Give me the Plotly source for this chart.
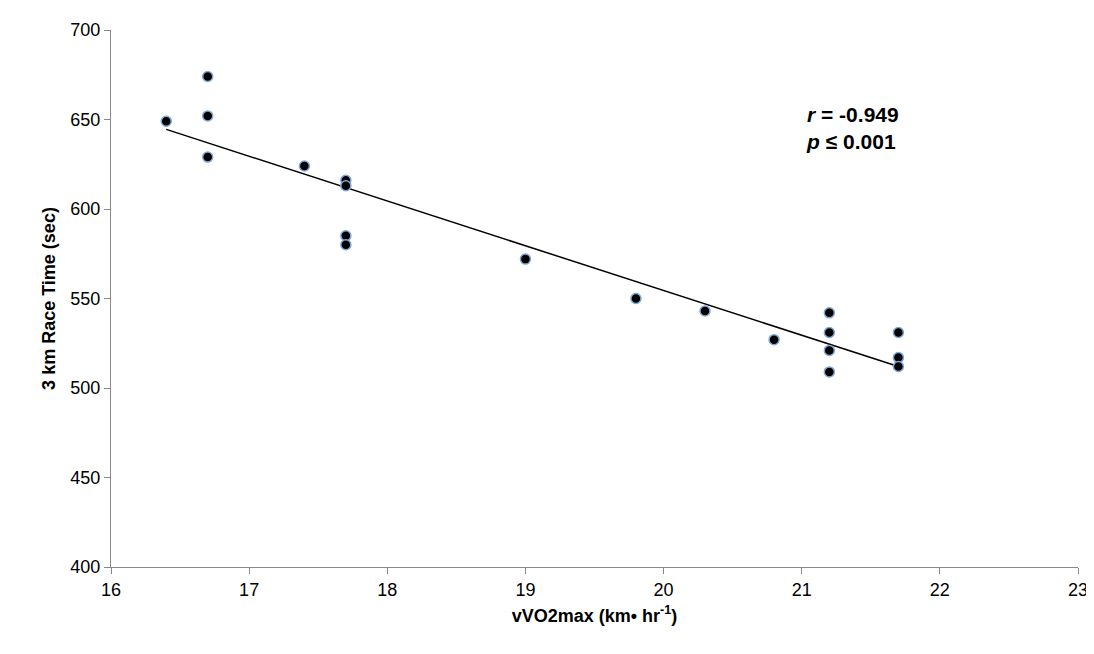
import numpy as np
import plotly.graph_objects as go

vvo2 = [16.4, 16.7, 16.7, 16.7, 17.4, 17.7, 17.7, 17.7, 17.7, 19.0, 19.8, 20.3, 20.8,
        21.2, 21.2, 21.2, 21.2, 21.7, 21.7, 21.7]
race = [649, 674, 652, 629, 624, 616, 613, 585, 580, 572, 550, 543, 527,
        542, 531, 521, 509, 531, 517, 512]

slope, icpt = np.polyfit(vvo2, race, 1)
lx = [min(vvo2), max(vvo2)]
ly = [slope * v + icpt for v in lx]

fig = go.Figure()
fig.add_trace(go.Scatter(x=lx, y=ly, mode="lines", line=dict(color="black", width=1.5), hoverinfo="skip"))
fig.add_trace(go.Scatter(x=vvo2, y=race, mode="markers",
                         marker=dict(color="black", size=10, line=dict(color="#7ea6d8", width=1.5))))
font = "Liberation Sans, Arial, sans-serif"
fig.update_layout(
    width=1094, height=654, showlegend=False,
    plot_bgcolor="white", paper_bgcolor="white",
    margin=dict(l=103, r=24, t=12, b=95),
    font=dict(family=font, size=18, color="black"),
    xaxis=dict(range=[16, 23], dtick=1, showgrid=False, zeroline=False,
               showline=True, linecolor="#888", ticks="outside", ticklen=6, tickcolor="#888",
               tickfont=dict(size=18),
               title=dict(text="<b>vVO2max (km• hr<sup>-1</sup>)</b>", font=dict(size=18), standoff=10)),
    yaxis=dict(range=[400, 700], dtick=50, showgrid=False, zeroline=False,
               showline=True, linecolor="#888", ticks="outside", ticklen=6, tickcolor="#888",
               tickfont=dict(size=18),
               title=dict(text="<b>3 km Race Time (sec)</b>", font=dict(size=18), standoff=10)),
    annotations=[dict(x=21.02, y=645, xref="x", yref="y", xanchor="left", yanchor="middle",
                      text="<b><i>r</i> = -0.949<br><i>p</i> ≤ 0.001</b>", showarrow=False,
                      align="left", font=dict(size=21))],
)
fig.write_html("out.html")
